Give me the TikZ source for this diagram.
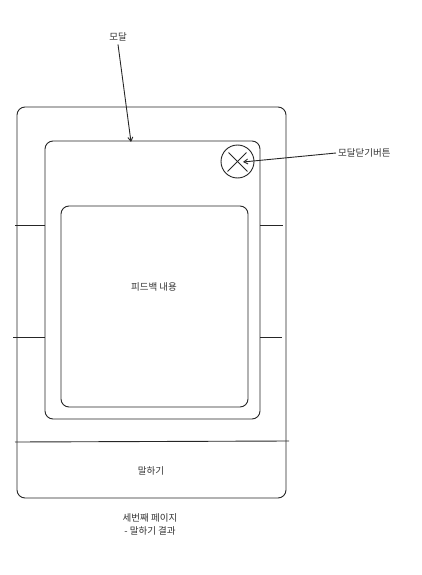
\documentclass[tikz,border=0pt]{standalone}
\usepackage{fontspec}
\newfontfamily\kr{Noto Sans CJK KR}
\usetikzlibrary{arrows.meta,calc}
\begin{document}
\begin{tikzpicture}[x=1pt,y=-1pt,
  ln/.style={draw=black!85,line width=0.9pt},
  lbl/.style={font=\kr\fontsize{9.5}{13}\selectfont,text=black!80,inner sep=0pt,align=center},
  arr/.style={ln,-{Straight Barb[length=4pt,width=5pt]}}]
\useasboundingbox (0,0) rectangle (421,575);
% outer frame
\draw[ln,rounded corners=8pt] (17,107) rectangle (286,498);
\coordinate (dl) at (15,442);
\coordinate (dr) at (289,441);
\draw[ln] (dl) -- (dr);
% modal
\draw[ln,rounded corners=8pt] (45,141) rectangle (260,419);
\coordinate (modaltop) at (131,142);
% content
\node[ln,rounded corners=8pt,minimum width=187pt,minimum height=201pt,inner sep=0pt] (content) at (154.5,306.5) {};
\node[lbl] (fb) at (154,287) {피드백 내용};
% side ticks
\coordinate (l1a) at (15,225); \coordinate (l1b) at (45,225);
\coordinate (l2a) at (13,337); \coordinate (l2b) at (45,337);
\coordinate (r1a) at (260,225); \coordinate (r1b) at (283,225);
\coordinate (r2a) at (260,337); \coordinate (r2b) at (282,337);
\draw[ln] (l1a) -- (l1b); \draw[ln] (l2a) -- (l2b);
\draw[ln] (r1a) -- (r1b); \draw[ln] (r2a) -- (r2b);
% close button
\node[ln,circle,minimum size=33pt,inner sep=0pt] (close) at (237.5,161.5) {};
\draw[ln] ($(close.north west)+(3,3)$) -- ($(close.south east)+(-2,-2)$);
\draw[ln] ($(close.north east)+(-3,3)$) -- ($(close.south west)+(2,-2)$);
% labels
\node[lbl] (modal) at (118,37) {모달};
\draw[arr] ($(modal.south)+(0,3)$) -- (modaltop);
\node[lbl,anchor=west] (closelbl) at (338,153) {모달닫기버튼};
\coordinate (closept) at (243,162);
\draw[arr] ($(closelbl.west)+(-2,0)$) -- (closept);
\node[lbl] (speak) at (151,471) {말하기};
\node[lbl] (cap) at (150,524) {세번째 페이지\\- 말하기 결과};
\end{tikzpicture}
\end{document}
